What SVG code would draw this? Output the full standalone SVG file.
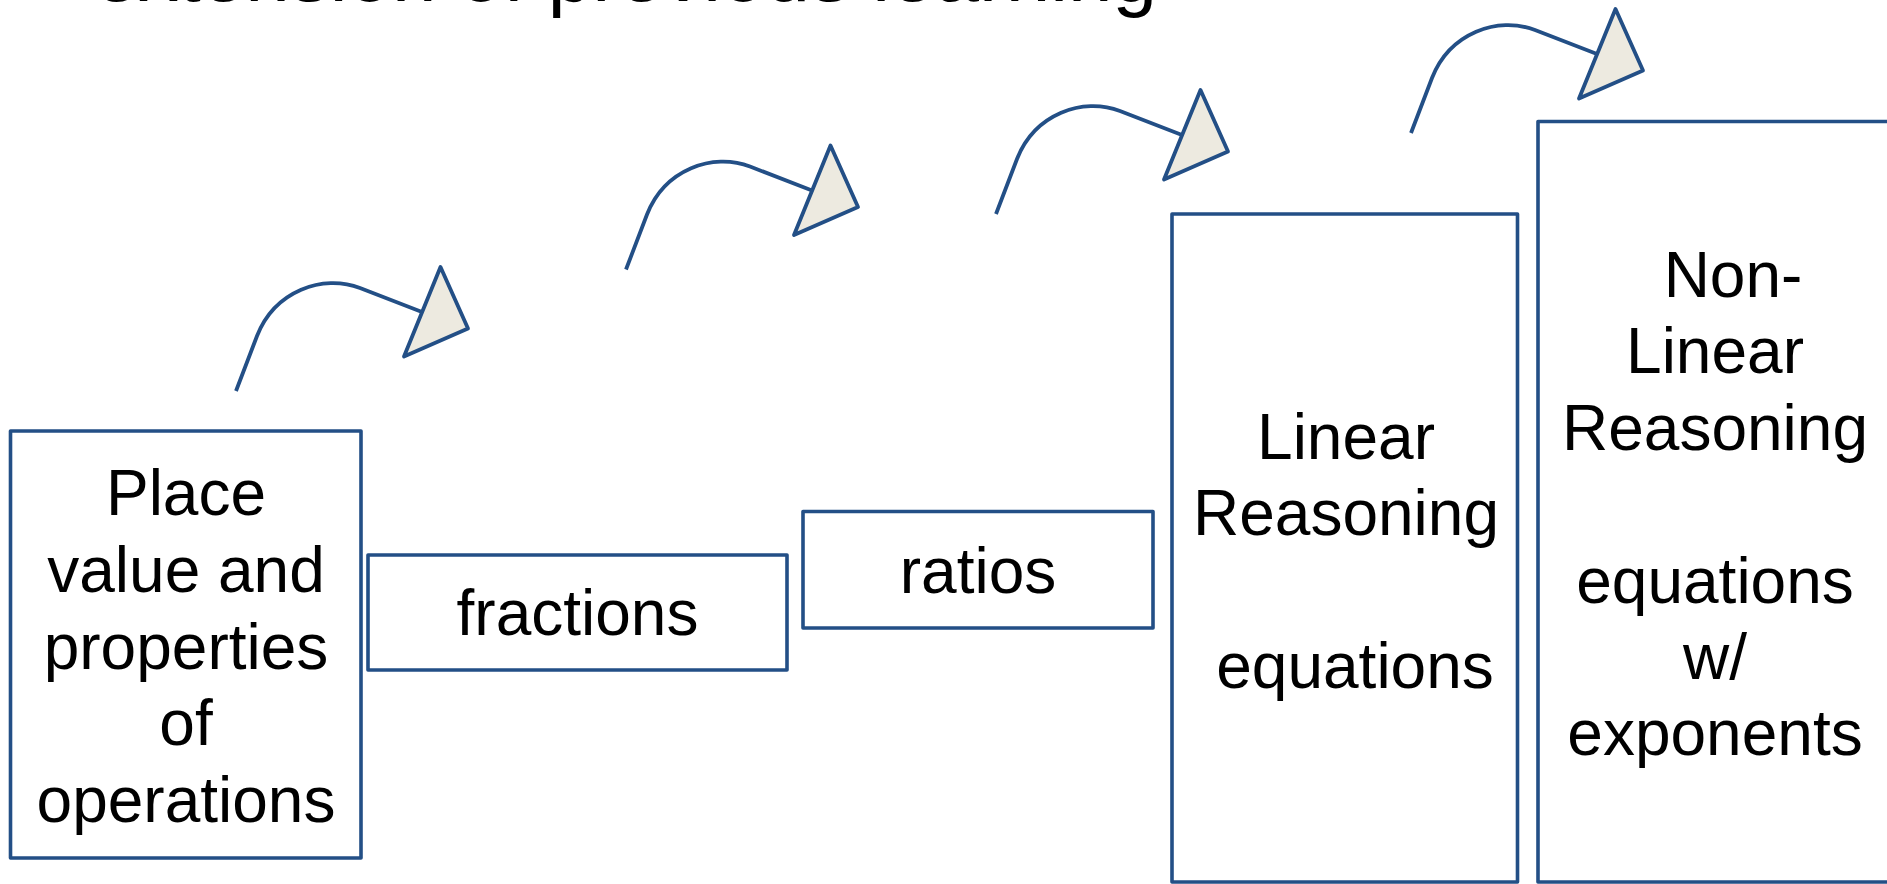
<svg xmlns="http://www.w3.org/2000/svg" xmlns:xlink="http://www.w3.org/1999/xlink" width="1887" height="884" viewBox="0 0 1887 884">
<style>
.box{fill:#ffffff;stroke:#234f86;stroke-width:3.6;stroke-linejoin:round}
.lbl{font-family:"Liberation Sans",Arial,sans-serif;font-size:64px;fill:#000000;text-anchor:middle}
.title{font-family:"Liberation Sans",Arial,sans-serif;font-size:80px;fill:#000000}
.curl{fill:none;stroke:#234f86;stroke-width:3.8;stroke-linejoin:round}
.head{fill:#edeae0;stroke:#234f86;stroke-width:3.8;stroke-linejoin:round}
</style>
<defs>
<g id="arrow">
<path class="curl" d="M236,391 L257,336 C274.6,291 322.8,273.6 360,288 L422,312"/>
<polygon class="head" points="440.5,267 468,328.5 404,356.5"/>
</g>
</defs>
<rect width="1887" height="884" fill="#ffffff"/>
<text class="title" x="94" y="1">extension of previous learning</text>
<g id="connectors">
<use xlink:href="#arrow"/>
<use xlink:href="#arrow" transform="translate(390,-121.5)"/>
<use xlink:href="#arrow" transform="translate(760,-177)"/>
<use xlink:href="#arrow" transform="translate(1175,-258)"/>
</g>
<g id="place-value">
<rect class="box" x="10.5" y="431" width="350.5" height="427"/>
<text class="lbl" x="186" y="515">Place</text>
<text class="lbl" x="186" y="592">value and</text>
<text class="lbl" x="186" y="668.5">properties</text>
<text class="lbl" x="186" y="745">of</text>
<text class="lbl" x="186" y="822">operations</text>
</g>
<g id="fractions">
<rect class="box" x="368" y="555" width="419" height="115"/>
<text class="lbl" x="577.5" y="635">fractions</text>
</g>
<g id="ratios">
<rect class="box" x="803" y="511.5" width="350" height="116.5"/>
<text class="lbl" x="978" y="593">ratios</text>
</g>
<g id="linear">
<rect class="box" x="1172" y="214" width="345.5" height="668"/>
<text class="lbl" x="1346" y="459">Linear</text>
<text class="lbl" x="1346" y="535.4">Reasoning</text>
<text class="lbl" x="1355" y="688.2">equations</text>
</g>
<g id="non-linear">
<rect class="box" x="1538" y="121.5" width="390" height="760.5"/>
<text class="lbl" x="1733" y="297">Non-</text>
<text class="lbl" x="1715" y="373.4">Linear</text>
<text class="lbl" x="1715" y="449.8">Reasoning</text>
<text class="lbl" x="1715" y="602.6">equations</text>
<text class="lbl" x="1715" y="679">w/</text>
<text class="lbl" x="1715" y="755.4">exponents</text>
</g>
</svg>
